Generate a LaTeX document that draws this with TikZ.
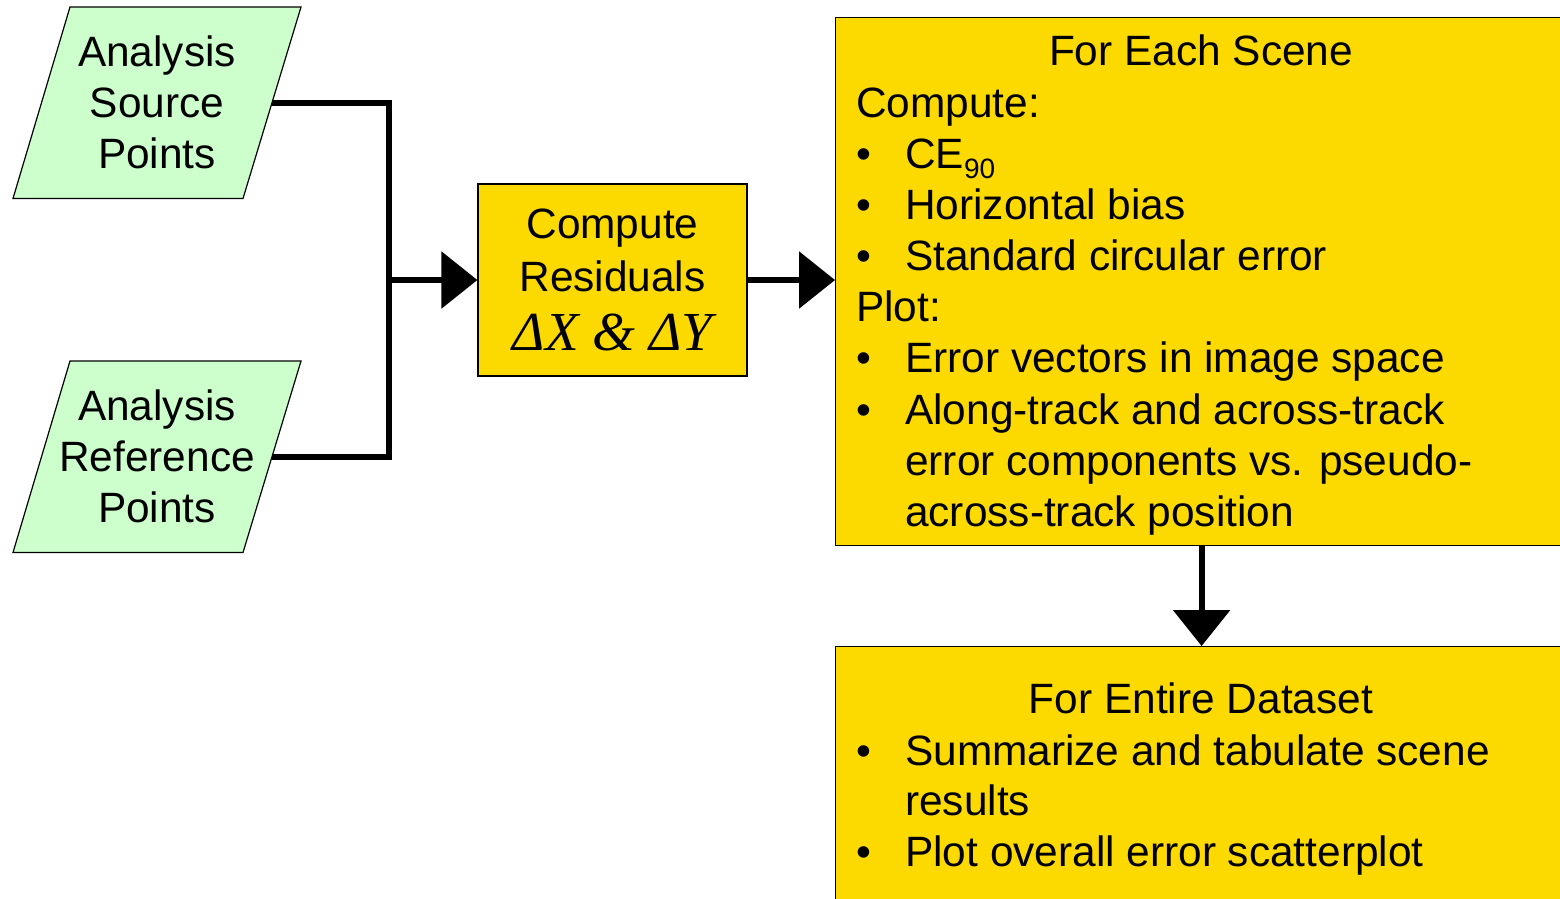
\documentclass[tikz,border=0pt]{standalone}
\usepackage{fontspec}
\setmainfont{Liberation Sans}
\newfontfamily\deltafont{Liberation Serif}
\usetikzlibrary{arrows.meta}

\definecolor{inputgreen}{HTML}{CCFFCC}
\definecolor{stepgold}{HTML}{FCDA00}

\newcommand\bodyfont{\fontsize{42.4pt}{51.2pt}\selectfont}
\newcommand\bul{\makebox[49pt][l]{•}}
\newcommand\subnum[1]{\raisebox{-10pt}{\fontsize{28pt}{28pt}\selectfont #1}}

\tikzset{
  inputshape/.style={draw=black, line width=1.2pt, fill=inputgreen, line join=miter},
  inputtext/.style={inner sep=0pt, align=center, font=\bodyfont},
  stepbox/.style={rectangle, draw=black, line width=1.2pt, fill=stepgold,
    inner sep=0pt},
  txt/.style={inner sep=0pt, font=\bodyfont},
  conn/.style={line width=6pt, line join=miter},
  flow/.style={conn, -{Triangle[length=36pt,width=56pt]}}
}

\begin{document}
\begin{tikzpicture}[x=1pt,y=-1pt]
\clip (0,0) rectangle (1560,898);
\fill[white] (0,0) rectangle (1560,898);

% input data (parallelograms)
\draw[inputshape] (70,7) -- (301,7) -- (243,198.5) -- (13,198.5) -- cycle;
\node[inputtext] (src) at (157,102.5) {Analysis\\Source\\Points};
\coordinate (srcout) at (272,102.5);

\draw[inputshape] (70,361) -- (301,361) -- (243,552.5) -- (13,552.5) -- cycle;
\node[inputtext] (ref) at (157,456.5) {Analysis\\Reference\\Points};
\coordinate (refout) at (272,456.5);

% residual computation
\node[stepbox, minimum width=269pt, minimum height=192pt, align=center,
      font=\fontsize{42.4pt}{53pt}\selectfont] (res) at (612.5,280)
  {Compute\\Residuals\\[6pt]{\deltafont\itshape\fontsize{55pt}{53pt}\selectfont ΔX \& ΔY}};

% per-scene and dataset summaries
\node[stepbox, anchor=north west, minimum width=732pt, minimum height=528pt]
  (scene) at (835,17) {};
\node[stepbox, anchor=north west, minimum width=732pt, minimum height=300pt]
  (dataset) at (835,646) {};

% connectors
\coordinate (jn) at (389,280);
\draw[conn] (srcout) -| (jn) |- (refout);
\draw[flow] ([xshift=-3pt]jn) -- (res.west);
\draw[flow] (res.east) -- (res.east -| scene.west);
\draw[flow] (scene.south) -- (dataset.north);

% per-scene text
\node[txt, anchor=base] (s0) at (1201,65) {For Each Scene};
\node[txt, anchor=base west] (s1) at (856,117) {Compute:};
\node[txt, anchor=base west] (s2) at (856,168) {\bul CE\subnum{90}};
\node[txt, anchor=base west] (s3) at (856,219) {\bul Horizontal bias};
\node[txt, anchor=base west] (s4) at (856,270) {\bul Standard circular error};
\node[txt, anchor=base west] (s5) at (856,321) {Plot:};
\node[txt, anchor=base west] (s6) at (856,372) {\bul Error vectors in image space};
\node[txt, anchor=base west] (s7) at (856,424) {\bul Along-track and across-track};
\node[txt, anchor=base west] (s8) at (856,475) {\hspace*{49pt}error components vs. pseudo-};
\node[txt, anchor=base west] (s9) at (856,526) {\hspace*{49pt}across-track position};

% dataset text
\node[txt, anchor=base] (d0) at (1201,713) {For Entire Dataset};
\node[txt, anchor=base west] (d1) at (856,765) {\bul Summarize and tabulate scene};
\node[txt, anchor=base west] (d2) at (856,815) {\hspace*{49pt}results};
\node[txt, anchor=base west] (d3) at (856,866) {\bul Plot overall error scatterplot};
\end{tikzpicture}
\end{document}
